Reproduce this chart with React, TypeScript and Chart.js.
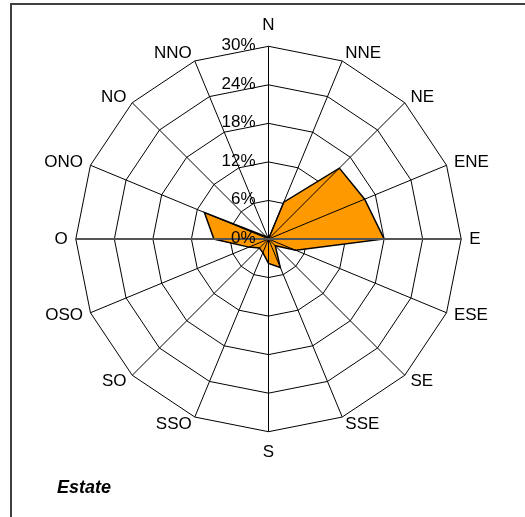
import React, { useEffect, useRef } from "react";
import { Chart, registerables } from "chart.js";

Chart.register(...registerables);

const directions = ["N", "NNE", "NE", "ENE", "E", "ESE", "SE", "SSE", "S", "SSO", "SO", "OSO", "O", "ONO", "NO", "NNO"];
const frequencies = [0, 6.2, 15.6, 16.2, 18, 4.6, 1.5, 4.8, 3.8, 2.3, 2.0, 3.3, 8.5, 10.8, 0.5, 0];
const tickValues = [0, 6, 12, 18, 24, 30];
const tickLabels = ["0%", "6%", "12%", "18%", "24%", "30%"];
const seasonTitle = "Estate";

const FONT = "'Liberation Sans', Arial, sans-serif";

const rosePlugin = {
  id: "roseLayout",
  afterLayout(chart: any) {
    const s = chart.scales.r;
    s.xCenter = 268.5;
    s.yCenter = 239;
    s.drawingArea = 192.7;
  },
  afterDatasetsDraw(chart: any) {
    const s = chart.scales.r;
    const ctx = chart.ctx;
    const n = directions.length;
    const R = s.getDistanceFromCenterForValue(30);
    ctx.save();
    // angle lines over the fill
    ctx.strokeStyle = "#000";
    ctx.lineWidth = 1;
    for (let i = 0; i < n; i++) {
      const p = s.getPointPosition(i, R);
      ctx.beginPath();
      ctx.moveTo(s.xCenter, s.yCenter);
      ctx.lineTo(p.x, p.y);
      ctx.stroke();
    }
    // category axis (O-E)
    const pE = s.getPointPosition(4, R);
    const pO = s.getPointPosition(12, R);
    ctx.strokeStyle = "#555";
    ctx.lineWidth = 2;
    ctx.beginPath();
    ctx.moveTo(pO.x, pO.y);
    ctx.lineTo(pE.x, pE.y);
    ctx.stroke();

    // point labels
    ctx.fillStyle = "#000";
    ctx.font = `17px ${FONT}`;
    ctx.textBaseline = "middle";
    for (let i = 0; i < n; i++) {
      const p = s.getPointPosition(i, R);
      const dx = Math.cos(p.angle);
      const dy = Math.sin(p.angle);
      if (Math.abs(dx) < 0.01) {
        ctx.textAlign = "center";
        ctx.fillText(directions[i], p.x, p.y + dy * 21);
      } else {
        ctx.textAlign = dx > 0 ? "left" : "right";
        ctx.fillText(directions[i], p.x + dx * 8, p.y + dy * 8);
      }
    }

    // tick labels
    ctx.textAlign = "right";
    for (let i = 0; i < tickValues.length; i++) {
      const d = s.getDistanceFromCenterForValue(tickValues[i]);
      ctx.fillText(tickLabels[i], s.xCenter - 13, s.yCenter - d - 1);
    }

    // frame
    ctx.strokeStyle = "#404040";
    ctx.lineWidth = 2;
    ctx.beginPath();
    ctx.moveTo(11, 540);
    ctx.lineTo(11, 4);
    ctx.lineTo(540, 4);
    ctx.stroke();

    // season title
    ctx.font = `italic bold 18px ${FONT}`;
    ctx.textAlign = "left";
    ctx.textBaseline = "alphabetic";
    ctx.fillText(seasonTitle, 57, 492.5);
    ctx.restore();
  },
};

export default function App() {
  const ref = useRef<HTMLCanvasElement | null>(null);
  useEffect(() => {
    if (!ref.current) return;
    const chart = new Chart(ref.current, {
      type: "radar",
      data: {
        labels: directions,
        datasets: [
          {
            data: frequencies,
            backgroundColor: "#FF9900",
            borderColor: "#000",
            borderWidth: 1.5,
            fill: true,
            pointRadius: 0,
            tension: 0,
          },
        ],
      },
      options: {
        responsive: false,
        animation: false,
        devicePixelRatio: 1,
        plugins: { legend: { display: false }, tooltip: { enabled: false } },
        scales: {
          r: {
            min: 0,
            max: 30,
            ticks: { stepSize: 6, display: false },
            grid: { color: "#000", lineWidth: 1, circular: false },
            angleLines: { display: false },
            pointLabels: { display: false },
          },
        },
      },
      plugins: [rosePlugin],
    });
    return () => chart.destroy();
  }, []);
  return (
    <div style={{ position: "fixed", left: 0, top: 0, width: 525, height: 517, background: "#fff" }}>
      <canvas ref={ref} width={525} height={517} />
    </div>
  );
}
